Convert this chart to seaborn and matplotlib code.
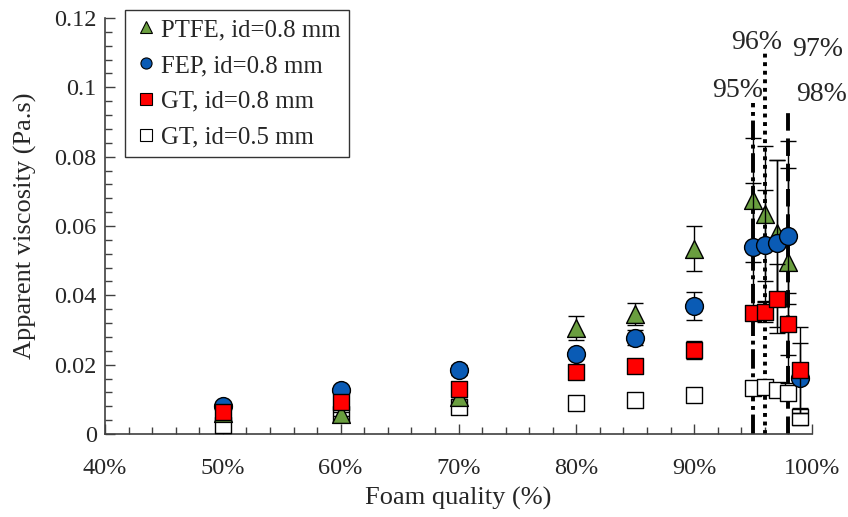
import matplotlib
matplotlib.use("Agg")
import matplotlib.pyplot as plt
import matplotlib.ticker as mticker
from matplotlib.lines import Line2D
import numpy as np
import pandas as pd
import seaborn as sns

# ---- data ----
quality_all = [0.50, 0.60, 0.70, 0.80, 0.85, 0.90, 0.95, 0.96, 0.97, 0.98, 0.99]

ptfe_q = [0.50, 0.60, 0.70, 0.80, 0.85, 0.90, 0.95, 0.96, 0.97, 0.98]
ptfe_v = [0.0060, 0.0058, 0.0107, 0.0306, 0.0346, 0.0535, 0.0675, 0.0635, 0.0580, 0.0496]
ptfe_e = [0.0005, 0.0006, 0.0006, 0.0035, 0.0032, 0.0065, 0.0180, 0.0195, 0.0210, 0.0350]

fep_q = quality_all
fep_v = [0.0080, 0.0127, 0.0185, 0.0231, 0.0278, 0.0370, 0.0540, 0.0545, 0.0550, 0.0572, 0.0162]
fep_e = [0.0008, 0.0008, 0.0015, 0.0010, 0.0022, 0.0040, 0.0185, 0.0160, 0.0240, 0.0196, 0.0100]

gt8_q = quality_all
gt8_v = [0.0063, 0.0092, 0.0130, 0.0180, 0.0196, 0.0242, 0.0349, 0.0352, 0.0390, 0.0318, 0.0185]
gt8_e = [0.0005, 0.0005, 0.0005, 0.0008, 0.0008, 0.0025, 0.0020, 0.0030, 0.0100, 0.0090, 0.0125]

gt5_q = quality_all
gt5_v = [0.0026, 0.0058, 0.0078, 0.0089, 0.0098, 0.0112, 0.0134, 0.0136, 0.0127, 0.0118, 0.0050]
gt5_e = [0.0005, 0.0005, 0.0006, 0.0006, 0.0006, 0.0006, 0.0008, 0.0008, 0.0008, 0.0010, 0.0025]

series_names = ["PTFE, id=0.8 mm", "FEP, id=0.8 mm", "GT, id=0.8 mm", "GT, id=0.5 mm"]

vline_q = [0.95, 0.96, 0.98]
vline_top = [0.0955, 0.1103, 0.0926]
label_text = ["95%", "96%", "97%", "98%"]
label_x = [0.937, 0.953, 1.005, 1.008]
label_y = [0.0992, 0.1128, 0.1108, 0.0978]

x_ticks = [0.40, 0.50, 0.60, 0.70, 0.80, 0.90, 1.00]
y_ticks = [0, 0.02, 0.04, 0.06, 0.08, 0.10, 0.12]

# ---- styling ----
sns.set_style("white")
plt.rcParams["font.family"] = ["Liberation Serif", "DejaVu Serif"]

fig = plt.figure(figsize=(8.48, 5.17), dpi=100)
ax = fig.add_axes([105/848, 1 - 434/517, (812-105)/848, (434-18)/517])

spine_c = "#404040"

frames = []
for name, q, v, e in [(series_names[0], ptfe_q, ptfe_v, ptfe_e),
                      (series_names[1], fep_q, fep_v, fep_e),
                      (series_names[2], gt8_q, gt8_v, gt8_e),
                      (series_names[3], gt5_q, gt5_v, gt5_e)]:
    frames.append(pd.DataFrame({"q": q, "v": v, "e": e, "series": name}))
df = pd.concat(frames, ignore_index=True)

styles = {
    series_names[0]: dict(marker="^", color="#6a9e3f", s=165, z=4),
    series_names[1]: dict(marker="o", color="#0a5bb5", s=165, z=5),
    series_names[2]: dict(marker="s", color="#ff0000", s=135, z=6),
    series_names[3]: dict(marker="s", color="white", s=135, z=3),
}

# vertical reference lines
ls_list = [(0, (5, 1.2, 1, 1.2)), (0, (1, 1.2)), (0, (4.5, 2))]
for xq, top, ls in zip(vline_q, vline_top, ls_list):
    ax.plot([xq, xq], [0, top], color="black", lw=2.8, linestyle=ls, zorder=2)

for name in [series_names[3], series_names[0], series_names[1], series_names[2]]:
    st = styles[name]
    d = df[df["series"] == name]
    ax.errorbar(d["q"], d["v"], yerr=d["e"], fmt="none", ecolor="black",
                elinewidth=1.0, capsize=6, capthick=1.0, zorder=st["z"] - 0.5)
    sns.scatterplot(data=d, x="q", y="v", marker=st["marker"], color=st["color"],
                    s=st["s"], edgecolor="black", linewidth=1.0, ax=ax,
                    zorder=st["z"], legend=False)

# labels for vertical lines
for t, lx, ly in zip(label_text, label_x, label_y):
    ax.text(lx, ly, t, ha="center", va="center", fontsize=20, clip_on=False)

ax.set_xlim(0.40, 1.00)
ax.set_ylim(0, 0.12)
ax.set_xticks(x_ticks)
ax.set_yticks(y_ticks)
ax.xaxis.set_major_formatter(mticker.FuncFormatter(lambda v, p: f"{v*100:.0f}%"))
ax.yaxis.set_major_formatter(mticker.FuncFormatter(lambda v, p: "0" if v == 0 else f"{v:g}"))
ax.xaxis.set_minor_locator(mticker.MultipleLocator(0.02))
ax.yaxis.set_minor_locator(mticker.MultipleLocator(0.004))
ax.tick_params(axis="both", which="major", direction="in", length=7, width=1,
               color=spine_c, labelsize=17.5, pad=6)
ax.tick_params(axis="both", which="minor", direction="in", length=5, width=1, color=spine_c)
ax.tick_params(axis="x", which="major", pad=17)
ax.tick_params(bottom=True, left=True, which="both")

for side in ["top", "right"]:
    ax.spines[side].set_visible(False)
for side in ["left", "bottom"]:
    ax.spines[side].set_color(spine_c)
    ax.spines[side].set_linewidth(1.2)

ax.set_xlabel("Foam quality (%)", fontsize=19, labelpad=6)
ax.set_ylabel("Apparent viscosity (Pa.s)", fontsize=19, labelpad=12)

handles = []
for name in series_names:
    st = styles[name]
    handles.append(Line2D([], [], linestyle="none", marker=st["marker"],
                          markerfacecolor=st["color"], markeredgecolor="black",
                          markeredgewidth=0.8, markersize=8))
leg = ax.legend(handles, series_names, loc="upper left", bbox_to_anchor=(0.028, 1.019),
                fontsize=17.8, frameon=True, fancybox=False, edgecolor="black",
                handletextpad=0.1, handlelength=1.0, borderpad=0.35, labelspacing=0.55,
                borderaxespad=0)
leg.get_frame().set_linewidth(1.0)

fig.savefig("out.png", dpi=100)
